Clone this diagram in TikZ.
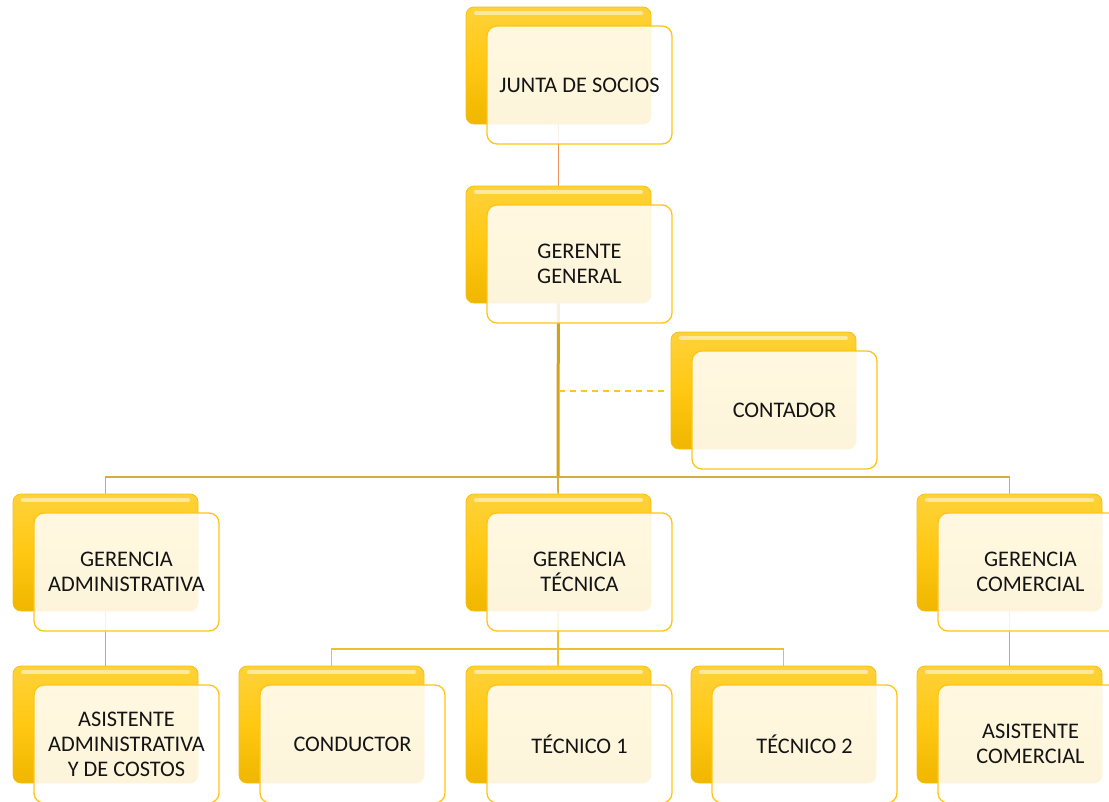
\documentclass[tikz,border=0pt]{standalone}
\usepackage{fontspec}
\setmainfont{Carlito}
\usetikzlibrary{backgrounds}
\definecolor{goldtop}{HTML}{FFD23A}
\definecolor{goldmid}{HTML}{FFC812}
\definecolor{goldbot}{HTML}{F0B600}
\definecolor{goldedge}{HTML}{F5C010}
\definecolor{frontedge}{HTML}{FFC418}
\definecolor{juntaline}{HTML}{E8955E}
\definecolor{thickline}{HTML}{D4A21A}
\definecolor{busline}{HTML}{D8AE3A}
\definecolor{dashline}{HTML}{FFC425}
\definecolor{bustwo}{HTML}{EEBF2E}
\tikzset{
  backbox/.style={rectangle, rounded corners=8pt, top color=goldtop, bottom color=goldbot, middle color=goldmid,
    draw=goldedge, line width=0.8pt, minimum width=185pt, minimum height=117pt,
    inner sep=0pt, outer sep=0pt, anchor=north west},
  frontbox/.style={rectangle, rounded corners=10pt, fill=white, fill opacity=0.86, text opacity=1,
    draw=frontedge, line width=1.3pt, minimum width=185pt, minimum height=118pt,
    inner sep=0pt, outer sep=0pt, anchor=north west, align=center,
    font=\fontsize{22.3}{25}\selectfont, text=black!92},
  gloss/.style={white, opacity=0.5, line width=4pt, line cap=round},
  thinlink/.style={juntaline, line width=1pt},
  mainlink/.style={thickline, line width=3pt},
  buslink/.style={busline, line width=1.7pt},
  dashlink/.style={dashline, line width=2pt, dash pattern=on 6pt off 5pt},
  subbus/.style={bustwo, line width=1.7pt},
}
\newcommand\orgunit[4]{%
  \node[backbox] (#1b) at (#2,#3) {};
  \draw[gloss] ([xshift=10pt,yshift=-6pt]#1b.north west) -- ([xshift=-10pt,yshift=-6pt]#1b.north east);
  \node[frontbox] (#1f) at ([xshift=21pt,yshift=-19pt]#1b.north west) {#4};
}
\begin{document}
\begin{tikzpicture}[x=1pt,y=-1pt]
\useasboundingbox (0,0) rectangle (1109,801);
\orgunit{ju}{466}{7}{JUNTA DE SOCIOS}
\orgunit{ge}{466}{186}{GERENTE\\GENERAL}
\orgunit{co}{671}{332}{CONTADOR}
\orgunit{ga}{13}{494}{GERENCIA\\ADMINISTRATIVA}
\orgunit{gt}{466}{494}{GERENCIA\\TÉCNICA}
\orgunit{gc}{917}{494}{GERENCIA\\COMERCIAL}
\orgunit{aa}{13}{666}{ASISTENTE\\ADMINISTRATIVA\\Y DE COSTOS}
\orgunit{cd}{239}{666}{CONDUCTOR}
\orgunit{ta}{466}{666}{TÉCNICO 1}
\orgunit{tb}{691}{666}{TÉCNICO 2}
\orgunit{ac}{917}{666}{ASISTENTE\\COMERCIAL}
\coordinate (busa) at (558,477);
\coordinate (busb) at (558,649);
\begin{pgfonlayer}{background}
  \draw[thinlink] (jub.center) -- (geb.center);
  \draw[mainlink] (geb.center) -- (busa);
  \draw[buslink] (gab.center) |- (busa) -| (gcb.center);
  \draw[buslink] (busa) -- (gtb.center);
  \draw[dashlink] (geb.center |- cob.west) -- ([xshift=-4pt]cob.west);
  \draw[buslink] (gab.center) -- (aab.center);
  \draw[buslink] (gcb.center) -- (acb.center);
  \draw[subbus] (gtb.center) -- (busb);
  \draw[subbus] (cdb.center) |- (busb) -| (tbb.center);
  \draw[subbus] (busb) -- (tab.center);
\end{pgfonlayer}
\end{tikzpicture}
\end{document}
